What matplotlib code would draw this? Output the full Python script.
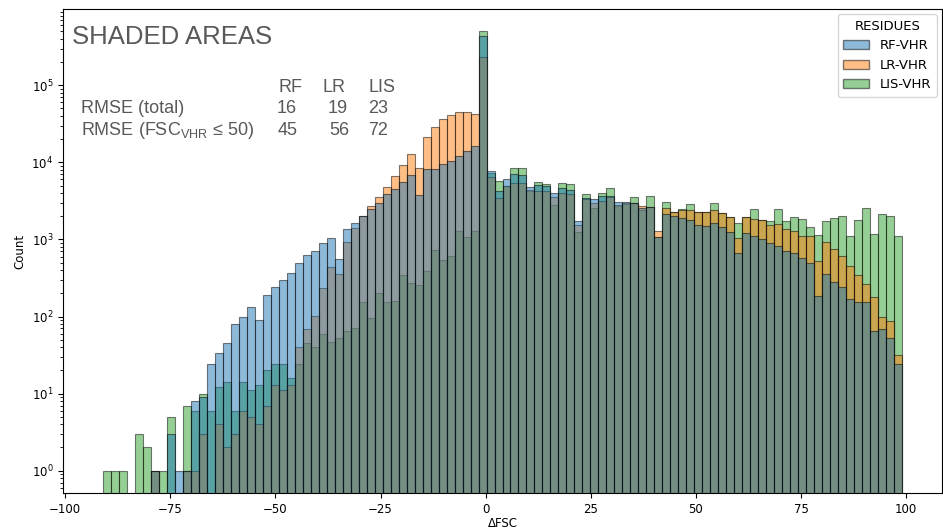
import numpy as np
import matplotlib.pyplot as plt
from matplotlib.patches import Patch

# histogram bins (integer dFSC from -91 to 99, 100 bins)
bin_lo, bin_hi, n_bins = -91, 99, 100

rf_vhr = [0, 0, 0, 0, 0, 0, 1, 0, 3, 1,
          1, 8, 9, 24, 34, 46, 81, 99, 131, 91,
          193, 238, 296, 362, 488, 625, 711, 887, 1030, 555,
          1361, 1644, 2009, 2454, 2990, 3875, 4500, 5600, 6800, 3760,
          8110, 8100, 9420, 10500, 12080, 14000, 16400, 441000, 7780, 4280,
          6070, 6990, 6840, 4730, 5070, 4970, 4030, 4590, 4400, 1729,
          3400, 3340, 3650, 3650, 3020, 3020, 3000, 2570, 2600, 1060,
          2130, 2000, 1900, 1780, 1534, 1490, 1644, 1458, 1256, 670,
          1196, 1104, 1000, 903, 826, 711, 658, 566, 488, 185,
          351, 282, 238, 168, 152, 155, 65, 68, 52, 24]

lr_vhr = [0, 0, 0, 0, 0, 0, 1, 0, 0, 0,
          1, 1, 3, 0, 4, 2, 3, 6, 5, 4,
          7, 13, 11, 13, 40, 69, 101, 231, 441, 351,
          914, 1390, 2000, 2733, 3510, 4735, 6640, 9140, 13000, 8360,
          21500, 28500, 36200, 41100, 44600, 44600, 42000, 231000, 6390, 3400,
          4900, 5340, 5430, 4400, 4280, 4200, 3510, 3960, 3890, 1520,
          3300, 2990, 3140, 3600, 2800, 2950, 3000, 2730, 2600, 1282,
          2530, 2285, 2400, 2400, 2285, 2250, 2400, 2215, 1966, 1030,
          1966, 1820, 1800, 1535, 1566, 1349, 1294, 1104, 1115, 527,
          914, 748, 607, 454, 344, 263, 177, 99, 88, 32]

lis_vhr = [1, 1, 1, 0, 3, 2, 1, 1, 5, 0,
           7, 6, 10, 6, 12, 14, 6, 14, 11, 13,
           20, 24, 24, 16, 24, 45, 40, 60, 47, 52,
           65, 71, 152, 97, 199, 152, 160, 344, 273, 255,
           391, 726, 538, 607, 1294, 1081, 1294, 512000, 7200, 5770,
           5000, 8360, 8360, 4200, 5600, 5230, 2800, 5430, 5300, 1256,
           3875, 2530, 3955, 4680, 2700, 2900, 3510, 2400, 3650, 1062,
           3020, 2300, 2500, 2850, 2285, 2250, 2935, 2215, 1966, 1614,
           1966, 2454, 1800, 1745, 2454, 1730, 1966, 1836, 1458, 1137,
           1730, 1875, 2027, 1115, 1800, 2530, 1161, 2113, 2027, 1115]

labels = ['RF-VHR', 'LR-VHR', 'LIS-VHR']
colors = ['#1f77b4', '#ff7f0e', '#2ca02c']

W, H = 943, 531
fig = plt.figure(figsize=(W / 100, H / 100), dpi=100)
ax = fig.add_axes([63 / W, 1 - 493 / H, (942 - 63) / W, (493 - 9) / H])

edges = np.linspace(bin_lo, bin_hi, n_bins + 1)
left = edges[:-1]
width = np.diff(edges)

# seaborn-like layering: last hue drawn first
for counts, col in [(lis_vhr, colors[2]), (lr_vhr, colors[1]), (rf_vhr, colors[0])]:
    c = np.array(counts, dtype=float)
    m = c > 0
    ax.bar(left[m], c[m], width=width[m], align='edge', color=col,
           alpha=0.5, edgecolor='black', linewidth=0.8)

ax.set_yscale('log')
ax.set_xlim(-100.5, 108.5)
ax.set_ylim(10 ** -0.29, 10 ** 5.99)
ax.set_xticks([-100, -75, -50, -25, 0, 25, 50, 75, 100])
ax.tick_params(labelsize=8.5)
ax.set_xlabel('ΔFSC', fontsize=8.5, labelpad=1)
ax.set_ylabel('Count', fontsize=8.5)

handles = [Patch(facecolor=c, alpha=0.5, edgecolor='black') for c in colors]
leg = ax.legend(handles, labels, title='RESIDUES', loc='upper right',
                fontsize=9.5, title_fontsize=9.5, borderaxespad=0.4)

# annotations
txt = dict(color='#595959', family=['Liberation Sans', 'DejaVu Sans'])
def put(x, y, s, size):
    fig.text(x / W, 1 - y / H, s, fontsize=size, va='baseline', ha='left', **txt)

put(72, 44, 'SHADED AREAS', 18.5)
put(278, 92, 'RF', 13)
put(323, 92, 'LR', 13)
put(368, 92, 'LIS', 13)
put(81, 113, 'RMSE (total)', 13)
put(277, 113, '16', 13)
put(328, 113, '19', 13)
put(368, 113, '23', 13)
put(81, 135, r'RMSE (FSC$_{\mathregular{VHR}}$ ≤ 50)', 13)
put(278, 135, '45', 13)
put(329, 135, '56', 13)
put(368, 135, '72', 13)

fig.savefig('out.png', dpi=100)
